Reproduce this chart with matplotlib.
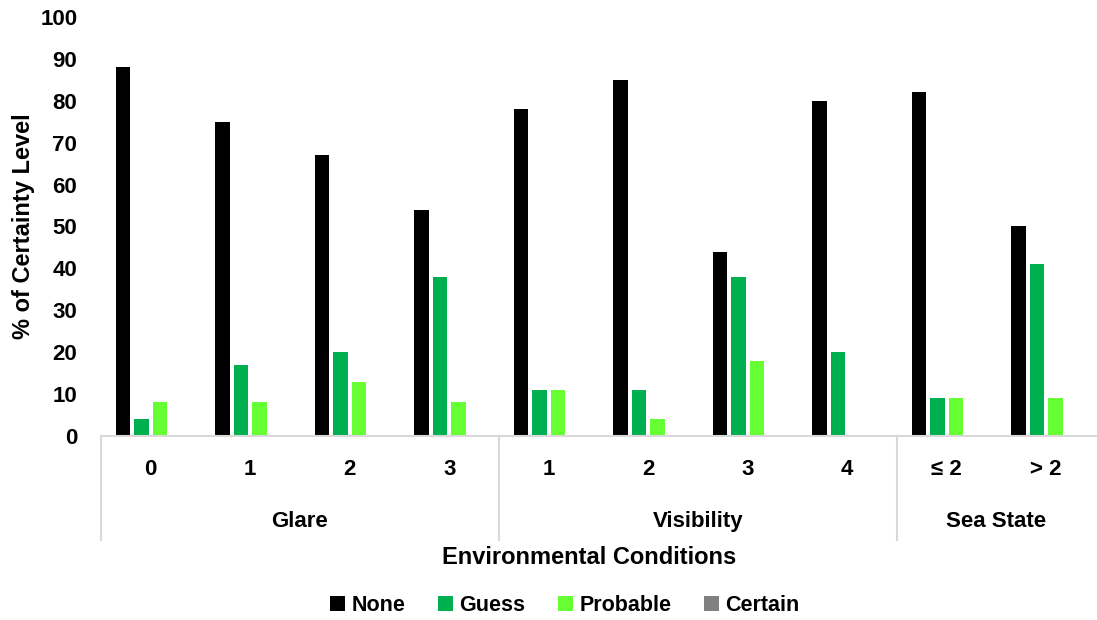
import matplotlib
matplotlib.use("Agg")
import matplotlib.pyplot as plt
import matplotlib.transforms as mtransforms
from matplotlib.patches import Patch
import numpy as np

plt.rcParams['font.family'] = ['Liberation Sans', 'DejaVu Sans']
plt.rcParams['font.weight'] = 'bold'

# Condition levels, grouped by environmental factor
groups = ["Glare", "Visibility", "Sea State"]
group_sizes = [4, 4, 2]
levels = ["0", "1", "2", "3", "1", "2", "3", "4", "≤ 2", "> 2"]

# Share of responses (%) at each certainty level
series_names = ["None", "Guess", "Probable", "Certain"]
none_vals = [88, 75, 67, 54, 78, 85, 44, 80, 82, 50]
guess_vals = [4, 17, 20, 38, 11, 11, 38, 20, 9, 41]
probable_vals = [8, 8, 13, 8, 11, 4, 18, 0, 9, 9]
certain_vals = [0, 0, 0, 0, 0, 0, 0, 0, 0, 0]
colors = ["#000000", "#00B050", "#66FF33", "#808080"]

fig = plt.figure(figsize=(10.97, 6.2), dpi=100)
ax = fig.add_axes([0.092, 0.2968, 0.907, 0.6758])

x = np.arange(len(levels))
pitch = 0.185
bar_w = 0.145
for i, (vals, col) in enumerate(zip([none_vals, guess_vals, probable_vals, certain_vals], colors)):
    ax.bar(x + (i - 1.5) * pitch, vals, width=bar_w, color=col, linewidth=0)

ax.set_xlim(-0.5, len(levels) - 0.5)
ax.set_ylim(0, 100)
ax.set_yticks(np.arange(0, 101, 10))
ax.tick_params(axis='y', length=0, pad=17, labelsize=16)
ax.set_xticks([])
for s in ["top", "right", "left"]:
    ax.spines[s].set_visible(False)
ax.spines["bottom"].set_color("#D9D9D9")
ax.spines["bottom"].set_linewidth(1.5)

ax.set_ylabel("% of Certainty Level", fontsize=17, fontweight='bold', labelpad=4)

# Two-level category axis: level labels, group labels and separators
trans = mtransforms.blended_transform_factory(ax.transData, ax.transAxes)
for xi, lab in zip(x, levels):
    ax.text(xi, -0.081, lab, transform=trans, ha='center', va='center', fontsize=16)

start = 0
bounds = [-0.5]
for g, n in zip(groups, group_sizes):
    mid = start + (n - 1) / 2
    ax.text(mid, -0.205, g, transform=trans, ha='center', va='center', fontsize=16)
    start += n
    bounds.append(start - 0.5)
for b in bounds[:-1]:
    ax.plot([b, b], [0, -0.248], transform=trans, color="#D9D9D9", lw=1.5, clip_on=False)

fig.text(0.537, 0.1, "Environmental Conditions", ha='center', va='center', fontsize=17, fontweight='bold')

handles = [Patch(facecolor=c, edgecolor='none') for c in colors]
fig.legend(handles, series_names, loc='center', bbox_to_anchor=(0.515, 0.0226), ncol=4,
           frameon=False, fontsize=15.5, handlelength=0.7, handleheight=0.7,
           handletextpad=0.3, columnspacing=1.5)

fig.savefig("out.png", dpi=100)
